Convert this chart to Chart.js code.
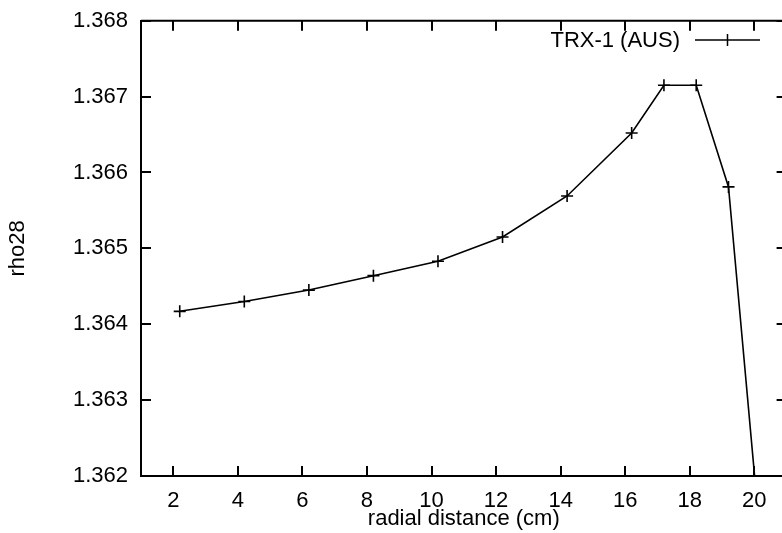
<!DOCTYPE html>
<html>
<head>
<meta charset="utf-8">
<script src="https://cdn.jsdelivr.net/npm/chart.js@4/dist/chart.umd.min.js"></script>
<style>
  html, body { margin: 0; padding: 0; background: #fff; overflow: hidden; }
  #wrap { width: 782px; height: 533px; overflow: hidden; position: relative; }
  canvas { display: block; }
</style>
</head>
<body>
<div id="wrap"><canvas id="c" width="800" height="533"></canvas></div>
<script>
// ---- data ----
const radialDistance = [2.2, 4.2, 6.2, 8.2, 10.2, 12.2, 14.2, 16.2, 17.2, 18.2, 19.2, 20.2];
const rho28 = [1.36417, 1.36430, 1.36445, 1.36464, 1.36483, 1.36515, 1.36569, 1.36652, 1.36715, 1.36715, 1.36581, 1.36110];
const seriesLabel = 'TRX-1 (AUS)';
const xTickValues = [2, 4, 6, 8, 10, 12, 14, 16, 18, 20];
const yTickValues = [1.362, 1.363, 1.364, 1.365, 1.366, 1.367, 1.368];
const xTitle = 'radial distance (cm)';
const yTitle = 'rho28';

const FONT = '"Liberation Sans", Arial, Helvetica, sans-serif';

const framePlugin = {
  id: 'frame',
  afterDatasetsDraw(chart) {
    const { ctx, chartArea: a, scales } = chart;
    ctx.save();
    ctx.strokeStyle = '#000';
    ctx.lineWidth = 2;
    ctx.beginPath();
    ctx.moveTo(a.left, a.top); ctx.lineTo(a.right, a.top);
    ctx.moveTo(a.right, a.top); ctx.lineTo(a.right, a.bottom);
    ctx.stroke();
    const L = 10;
    ctx.beginPath();
    xTickValues.forEach(v => {
      const x = Math.round(scales.x.getPixelForValue(v));
      ctx.moveTo(x, a.bottom); ctx.lineTo(x, a.bottom - L);
      ctx.moveTo(x, a.top); ctx.lineTo(x, a.top + L);
    });
    yTickValues.forEach(v => {
      const y = Math.round(scales.y.getPixelForValue(v));
      ctx.moveTo(a.left, y); ctx.lineTo(a.left + L, y);
      ctx.moveTo(a.right, y); ctx.lineTo(a.right - L, y);
    });
    ctx.stroke();
    // legend inside the plot
    ctx.fillStyle = '#000';
    ctx.font = '22px ' + FONT;
    ctx.textAlign = 'right';
    ctx.textBaseline = 'middle';
    ctx.fillText(seriesLabel, 680, 41);
    ctx.lineWidth = 1.5;
    ctx.beginPath();
    ctx.moveTo(695, 40); ctx.lineTo(760, 40);
    ctx.moveTo(727.5, 34); ctx.lineTo(727.5, 46);
    ctx.stroke();
    ctx.restore();
  }
};

function zeroPad(s) { s.paddingTop = 0; s.paddingBottom = 0; s.paddingLeft = 0; s.paddingRight = 0; }

new Chart(document.getElementById('c'), {
  type: 'line',
  data: {
    datasets: [{
      label: seriesLabel,
      data: radialDistance.map((x, i) => ({ x: x, y: rho28[i] })),
      borderColor: '#000',
      backgroundColor: '#000',
      borderWidth: 1.6,
      tension: 0,
      fill: false,
      pointStyle: 'cross',
      pointRadius: 6,
      pointBorderWidth: 1.6,
      pointBorderColor: '#000'
    }]
  },
  options: {
    responsive: false,
    devicePixelRatio: 1,
    animation: false,
    events: [],
    layout: { padding: { left: 0, right: 13.4, top: 20.7, bottom: 0 } },
    plugins: { legend: { display: false }, tooltip: { enabled: false } },
    scales: {
      x: {
        type: 'linear',
        min: 1, max: 21,
        afterBuildTicks: s => { s.ticks = xTickValues.map(v => ({ value: v })); },
        afterFit: s => { s.height = 57; zeroPad(s); },
        grid: { display: false, drawTicks: false },
        border: { display: true, width: 2, color: '#000' },
        ticks: {
          color: '#000', padding: 12, maxRotation: 0, autoSkip: false,
          font: { family: FONT, size: 22 },
          callback: v => String(v)
        },
        title: {
          display: true, text: xTitle, color: '#000',
          font: { family: FONT, size: 22 },
          padding: { top: 0, bottom: 1 }
        }
      },
      y: {
        type: 'linear',
        min: 1.362, max: 1.368,
        afterBuildTicks: s => { s.ticks = yTickValues.map(v => ({ value: v })); },
        afterFit: s => { s.width = 141; zeroPad(s); },
        grid: { display: false, drawTicks: false },
        border: { display: true, width: 2, color: '#000' },
        ticks: {
          color: '#000', padding: 13, autoSkip: false,
          font: { family: FONT, size: 22 },
          callback: v => Number(v).toFixed(3)
        },
        title: {
          display: true, text: yTitle, color: '#000',
          font: { family: FONT, size: 22 },
          padding: { top: 5, bottom: 0 }
        }
      }
    }
  },
  plugins: [framePlugin]
});
</script>
</body>
</html>
